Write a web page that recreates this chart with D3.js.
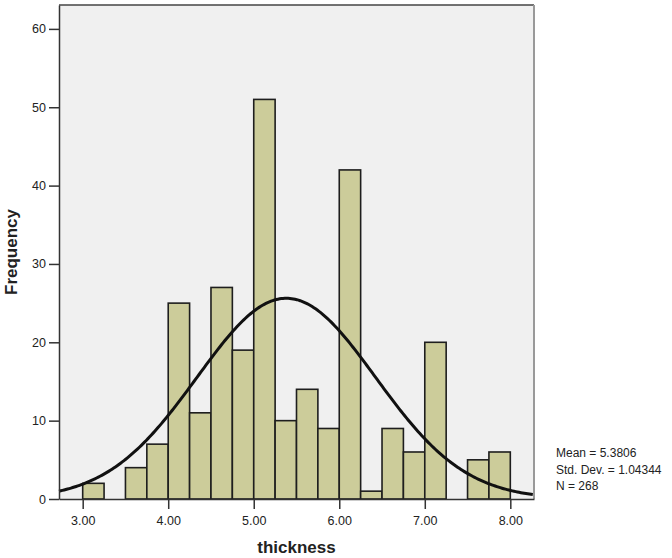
<!DOCTYPE html>
<html>
<head>
<meta charset="utf-8">
<script src="https://cdn.jsdelivr.net/npm/d3@7"></script>
<style>
  body { margin: 0; background: #fff; }
  svg { display: block; font-family: "Liberation Sans", Arial, sans-serif; }
</style>
</head>
<body>
<script>
// histogram bins (lower edge), width 0.25
var binStarts = [3.00, 3.25, 3.50, 3.75, 4.00, 4.25, 4.50, 4.75, 5.00, 5.25,
                 5.50, 5.75, 6.00, 6.25, 6.50, 6.75, 7.00, 7.25, 7.50, 7.75];
var counts = [2, 0, 4, 7, 25, 11, 27, 19, 51, 10,
              14, 9, 42, 1, 9, 6, 20, 0, 5, 6];
var binWidth = 0.25;
var xTicks = [3, 4, 5, 6, 7, 8];
var yTicks = [0, 10, 20, 30, 40, 50, 60];
var mean = 5.3806, sd = 1.04344, n = 268;
var statLines = ["Mean = 5.3806", "Std. Dev. = 1.04344", "N = 268"];

var width = 672, height = 558;
var margin = {top: 5, right: 138, bottom: 59, left: 59};

const svg = d3.select("body")
    .append("svg")
    .attr("width", width)
    .attr("height", height);

var x = d3.scaleLinear()
    .domain([2.723, 8.277])
    .range([margin.left, width - margin.right]);

var y = d3.scaleLinear()
    .domain([0, 63.05])
    .range([height - margin.bottom, margin.top]);

// plot background
svg.append("rect")
    .attr("x", margin.left)
    .attr("y", margin.top)
    .attr("width", x.range()[1] - x.range()[0])
    .attr("height", y.range()[0] - y.range()[1])
    .attr("fill", "#f0f0f0");

// bars
svg.append("g")
    .selectAll("rect")
    .data(counts.map((c, i) => ({x0: binStarts[i], count: c})).filter(d => d.count > 0))
    .join("rect")
    .attr("x", d => x(d.x0))
    .attr("y", d => y(d.count))
    .attr("width", d => x(d.x0 + binWidth) - x(d.x0))
    .attr("height", d => y(0) - y(d.count))
    .attr("fill", "#cccc9a")
    .attr("stroke", "#1e1e1e")
    .attr("stroke-width", 1.6);

// normal curve
var curvePts = d3.range(x.domain()[0], x.domain()[1] + 0.001, 0.02).map(function(v) {
    var z = (v - mean) / sd;
    return [v, n * binWidth * Math.exp(-0.5 * z * z) / (sd * Math.sqrt(2 * Math.PI))];
});
svg.append("path")
    .datum(curvePts)
    .attr("fill", "none")
    .attr("stroke", "#111")
    .attr("stroke-width", 3)
    .attr("d", d3.line().x(d => x(d[0])).y(d => y(d[1])));

// frame: top dark, right grey
svg.append("line")
    .attr("x1", margin.left).attr("x2", x.range()[1])
    .attr("y1", margin.top).attr("y2", margin.top)
    .attr("stroke", "#444").attr("stroke-width", 1.5);
svg.append("line")
    .attr("x1", x.range()[1]).attr("x2", x.range()[1])
    .attr("y1", margin.top).attr("y2", y(0))
    .attr("stroke", "#999").attr("stroke-width", 2);

// x-axis
svg.append("g")
    .attr("transform", `translate(0,${y(0)})`)
    .call(d3.axisBottom(x).tickValues(xTicks).tickFormat(d3.format(".2f")).tickSize(10).tickSizeOuter(0))
    .call(g => g.select(".domain").attr("stroke", "#333").attr("stroke-width", 1.5))
    .call(g => g.selectAll(".tick line").attr("stroke", "#333").attr("stroke-width", 1.5))
    .call(g => g.selectAll(".tick text").attr("font-size", 12.5).attr("fill", "#222").attr("dy", "1.0em"));

// y-axis
svg.append("g")
    .attr("transform", `translate(${margin.left},0)`)
    .call(d3.axisLeft(y).tickValues(yTicks).tickSize(10).tickSizeOuter(0))
    .call(g => g.select(".domain").attr("stroke", "#333").attr("stroke-width", 1.5))
    .call(g => g.selectAll(".tick line").attr("stroke", "#333").attr("stroke-width", 1.5))
    .call(g => g.selectAll(".tick text").attr("font-size", 12.5).attr("fill", "#222").attr("x", -13));

// axis titles
svg.append("text")
    .attr("x", (x.range()[0] + x.range()[1]) / 2)
    .attr("y", 553)
    .attr("text-anchor", "middle")
    .attr("font-size", 17)
    .attr("font-weight", "bold")
    .attr("fill", "#222")
    .text("thickness");

svg.append("text")
    .attr("transform", `translate(17,${(y.range()[0] + y.range()[1]) / 2}) rotate(-90)`)
    .attr("text-anchor", "middle")
    .attr("font-size", 17)
    .attr("font-weight", "bold")
    .attr("fill", "#222")
    .text("Frequency");

// stats
svg.append("g")
    .selectAll("text")
    .data(statLines)
    .join("text")
    .attr("x", 556)
    .attr("y", (d, i) => 457 + i * 16.5)
    .attr("font-size", 12)
    .attr("fill", "#222")
    .text(d => d);
</script>
</body>
</html>
